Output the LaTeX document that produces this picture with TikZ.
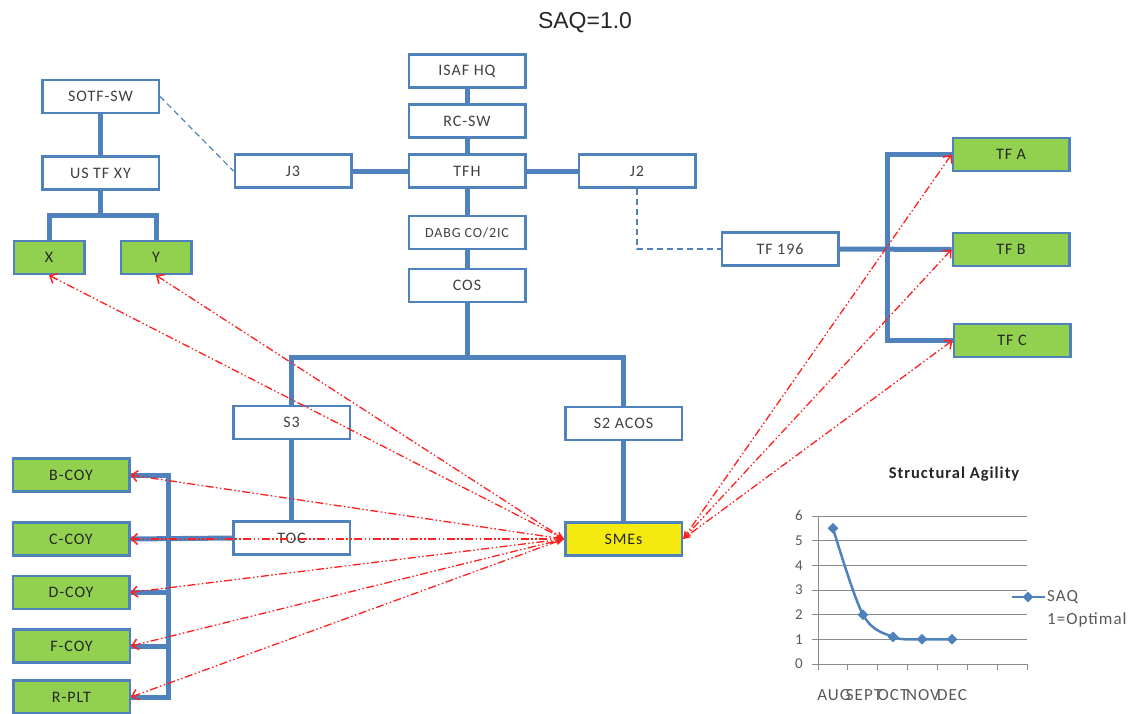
\documentclass[tikz,border=0pt]{standalone}
\usepackage{fontspec}
\setmainfont{Carlito}
\newfontfamily\titlefont{Liberation Sans}
\newfontfamily\boxfont[LetterSpace=6]{Carlito}
\usetikzlibrary{arrows.meta,shapes.geometric,calc}
\definecolor{bblue}{HTML}{4F81BD}
\definecolor{gfill}{HTML}{92D050}
\definecolor{yfill}{HTML}{F4EA10}
\definecolor{txt}{HTML}{404040}
\definecolor{gtxt}{HTML}{262626}
\definecolor{gridc}{HTML}{8A8A8A}
\definecolor{labc}{HTML}{595959}
\definecolor{redc}{HTML}{FF1F1F}
\tikzset{
  boxbase/.style={rectangle, draw=bblue, line width=2.5pt, minimum width=116.5pt,
    minimum height=33pt, inner sep=0pt, font=\boxfont\fontsize{16}{18}\selectfont},
  wbox/.style={boxbase, fill=white, text=txt},
  gbox/.style={boxbase, fill=gfill, text=gtxt},
  ybox/.style={boxbase, fill=yfill, text=gtxt},
  thick link/.style={draw=bblue, line width=5pt},
  thin dash/.style={draw=bblue, line width=1.2pt, dash pattern=on 6pt off 4pt},
  redarrow/.style={draw=redc, line width=1.3pt,
    dash pattern=on 8pt off 2.5pt on 1.5pt off 2.5pt on 1.5pt off 2.5pt,
    {Straight Barb[length=6pt,width=11pt,line width=1.5pt]}-{Stealth[length=8pt,width=7pt]}},
  marker/.style={diamond, fill=bblue, inner sep=0pt, minimum size=11pt},
  chartlab/.style={font=\fontsize{15}{17}\selectfont, text=labc, inner sep=0pt},
}
\begin{document}
\begin{tikzpicture}[x=1pt,y=-1pt]
\useasboundingbox (0,0) rectangle (1133,713);

% title
\node[font=\titlefont\fontsize{23}{26}\selectfont, text=black!85, anchor=base] (title) at (585,28) {SAQ=1.0};

% central column
\node[wbox] (ISAF) at (467,71) {ISAF HQ};
\node[wbox] (RCSW) at (467,121) {RC-SW};
\node[wbox] (TFH) at (467,171) {TFH};
\node[wbox] (J3) at (293,171) {J3};
\node[wbox] (J2) at (637,171) {J2};
\node[wbox, font=\boxfont\fontsize{14}{16}\selectfont] (DABG) at (467,232.5) {DABG CO/2IC};
\node[wbox] (COS) at (467,285.5) {COS};

% left upper group
\node[wbox] (SOTF) at (100.5,96.5) {SOTF-SW};
\node[wbox] (USTF) at (100.5,173) {US TF XY};
\node[gbox, minimum width=70.5pt] (X) at (49,257.5) {X};
\node[gbox, minimum width=70.5pt] (Y) at (156,257.5) {Y};

% right group
\node[wbox] (TF196) at (780,249) {TF 196};
\node[gbox] (TFA) at (1011,154.5) {TF A};
\node[gbox] (TFB) at (1011,249.5) {TF B};
\node[gbox] (TFC) at (1012,340.5) {TF C};

% lower part
\node[wbox] (S3) at (291.5,422.5) {S3};
\node[wbox] (S2) at (623.5,423.5) {S2 ACOS};
\node[wbox] (TOC) at (291.5,538) {TOC};
\node[ybox] (SMEs) at (623.5,539) {SMEs};

\node[gbox] (BCOY) at (71,475) {B-COY};
\node[gbox] (CCOY) at (71,539) {C-COY};
\node[gbox] (DCOY) at (71,592.5) {D-COY};
\node[gbox] (FCOY) at (71.5,646) {F-COY};
\node[gbox] (RPLT) at (71.5,697) {R-PLT};

% bus coordinates
\coordinate (mainbus) at (467,357);
\coordinate (xybus) at (100.5,215);
\coordinate (tfbus) at (887,249.5);
\coordinate (coybus) at (168,475);

% thick blue connectors
\draw[thick link] (ISAF) -- (RCSW);
\draw[thick link] (RCSW) -- (TFH);
\draw[thick link] (TFH) -- (J3);
\draw[thick link] (TFH) -- (J2);
\draw[thick link] (TFH) -- (DABG);
\draw[thick link] (DABG) -- (COS);
\draw[thick link] (COS.south) -- (mainbus);
\draw[thick link] (S3.north) |- (mainbus) -| (S2.north);
\draw[thick link] (S3) -- (TOC);
\draw[thick link] (S2) -- (SMEs);
\draw[thick link] (SOTF) -- (USTF);
\draw[thick link] (USTF.south) -- (xybus);
\draw[thick link] (X.north) |- (xybus) -| (Y.north);
\draw[thick link] (TF196.east) -- (TFB.west);
\draw[thick link] (TFA.west) -| (tfbus) |- (TFC.west);
\draw[thick link] (TOC.west) -- (CCOY.east);
\draw[thick link] (BCOY.east) -- (coybus) |- (RPLT.east);
\draw[thick link] (DCOY.east) -- (DCOY.east -| coybus);
\draw[thick link] (FCOY.east) -- (FCOY.east -| coybus);

% thin dashed blue connectors
\draw[thin dash] (SOTF.east) -- (J3.west);
\draw[thin dash] (J2.south) |- (TF196.west);

% red dash-dot arrows
\foreach \t in {X.south, Y.south, BCOY.east, CCOY.east, DCOY.east, FCOY.east, RPLT.east}
  \draw[redarrow] (\t) -- (SMEs.west);
\foreach \t in {TFA.west, TFB.west, TFC.west}
  \draw[redarrow] (\t) -- (SMEs.east);

% chart
\node[font=\boxfont\bfseries\fontsize{16.5}{18}\selectfont, text=black!85] (ctitle) at (954,474) {Structural Agility};
\foreach \v in {1,...,6}
  \draw[gridc, line width=0.9pt] (818,{664-24.67*\v}) -- (1027,{664-24.67*\v});
\draw[gridc, line width=0.9pt] (818,516) -- (818,664) -- (1027,664);
\foreach \v in {0,...,6}{
  \draw[gridc, line width=0.9pt] (812,{664-24.67*\v}) -- (818,{664-24.67*\v});
  \node[chartlab, anchor=east] at (803,{664-24.67*\v}) {\v};
}
\foreach \k in {0,...,7}
  \draw[gridc, line width=0.9pt] ({818+29.857*\k},664) -- ({818+29.857*\k},670);
\foreach \x/\m in {834/AUG, 864/SEPT, 893/OCT, 923/NOV, 952/DEC}
  \node[chartlab, anchor=base, font=\boxfont\fontsize{17}{19}\selectfont] at (\x,700) {\m};
\draw[bblue, line width=2.5pt] plot[smooth, tension=0.55] coordinates
  {(833,528.3) (863,614.7) (893,636.9) (922,639.3) (952,639.3)};
\foreach \p in {(833,528.3), (863,614.7), (893,636.9), (922,639.3), (952,639.3)}
  \node[marker] at \p {};
% legend
\draw[bblue, line width=2.5pt] (1012,597) -- (1045,597);
\node[marker] (legmark) at (1028,597) {};
\node[chartlab, anchor=west, font=\boxfont\fontsize{17}{19}\selectfont] (legsaq) at (1047,597) {SAQ};
\node[chartlab, anchor=west, font=\boxfont\fontsize{17}{19}\selectfont] (legopt) at (1047,620) {1=Optimal};
\end{tikzpicture}
\end{document}
